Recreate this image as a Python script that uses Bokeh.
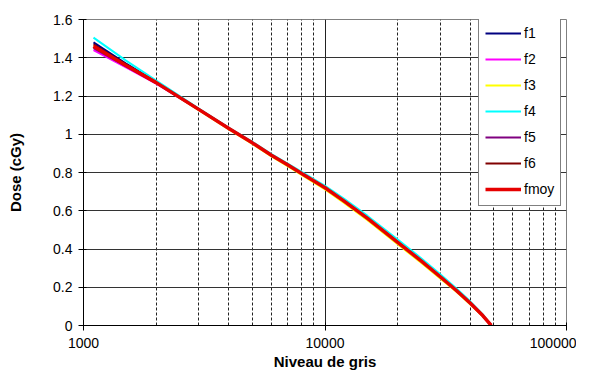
from bokeh.plotting import figure
from bokeh.models import FixedTicker, NumeralTickFormatter
from bokeh.embed import file_html
from bokeh.resources import INLINE

# Data
niveau = [1100, 1500, 2000, 3000, 4000, 5000, 6000, 7000, 8000, 10000, 12000,
          15000, 20000, 25000, 30000, 35000, 40000, 45000, 48800]
f1 = [1.48, 1.37, 1.275, 1.132, 1.032, 0.957, 0.892, 0.842, 0.797, 0.722, 0.652,
      0.562, 0.437, 0.34, 0.256, 0.184, 0.117, 0.053, 0.0]
f2 = [1.44, 1.35, 1.265, 1.128, 1.028, 0.953, 0.888, 0.838, 0.793, 0.718, 0.647,
      0.557, 0.432, 0.335, 0.252, 0.181, 0.114, 0.051, 0.0]
f3 = [1.46, 1.36, 1.268, 1.126, 1.025, 0.95, 0.884, 0.833, 0.788, 0.712, 0.641,
      0.55, 0.425, 0.328, 0.246, 0.176, 0.11, 0.048, 0.0]
f4 = [1.505, 1.385, 1.28, 1.134, 1.034, 0.96, 0.896, 0.847, 0.803, 0.73, 0.662,
      0.573, 0.449, 0.352, 0.268, 0.194, 0.125, 0.058, 0.0]
f5 = [1.45, 1.355, 1.267, 1.129, 1.029, 0.954, 0.889, 0.839, 0.794, 0.719, 0.649,
      0.559, 0.434, 0.337, 0.254, 0.182, 0.115, 0.051, 0.0]
f6 = [1.47, 1.365, 1.272, 1.131, 1.031, 0.956, 0.891, 0.841, 0.796, 0.721, 0.651,
      0.561, 0.436, 0.339, 0.256, 0.183, 0.116, 0.052, 0.0]
fmoy = [1.46, 1.36, 1.27, 1.13, 1.03, 0.955, 0.89, 0.84, 0.795, 0.72, 0.65,
        0.56, 0.435, 0.338, 0.255, 0.183, 0.116, 0.052, 0.0]

series_names = ["f1", "f2", "f3", "f4", "f5", "f6", "fmoy"]
series_values = [f1, f2, f3, f4, f5, f6, fmoy]
series_colors = ["#000080", "#FF00FF", "#FFFF00", "#00FFFF", "#800080", "#800000", "#E60000"]
series_widths = [2, 2, 2, 2, 2, 2, 3.5]

x_major = [1000, 10000, 100000]
x_minor = [2000, 3000, 4000, 5000, 6000, 7000, 8000, 9000,
           20000, 30000, 40000, 50000, 60000, 70000, 80000, 90000]
y_ticks = [0, 0.2, 0.4, 0.6, 0.8, 1.0, 1.2, 1.4, 1.6]

FONT = "Liberation Sans"

p = figure(width=576, height=372, x_axis_type="log",
           x_range=(1000, 100000), y_range=(0, 1.6),
           output_backend="svg", toolbar_location=None,
           min_border_left=83, min_border_right=10,
           min_border_top=19, min_border_bottom=46)

p.outline_line_color = "#808080"
p.outline_line_width = 1

for name, vals, col, w in zip(series_names, series_values, series_colors, series_widths):
    p.line(niveau, vals, line_color=col, line_width=w, legend_label=name)

# axes
p.xaxis.ticker = FixedTicker(ticks=x_major, minor_ticks=x_minor)
p.xaxis.formatter = NumeralTickFormatter(format="0")
p.yaxis.ticker = FixedTicker(ticks=y_ticks)
p.yaxis.formatter = NumeralTickFormatter(format="0.[0]")

for ax in (p.xaxis[0], p.yaxis[0]):
    ax.axis_line_color = "black"
    ax.major_tick_line_color = "black"
    ax.major_tick_in = 3
    ax.major_tick_out = 5
    ax.minor_tick_line_color = None
    ax.major_label_text_font = FONT
    ax.major_label_text_font_size = "14px"
    ax.major_label_text_color = "black"
    ax.axis_label_text_font = FONT
    ax.axis_label_text_font_size = "15px"
    ax.axis_label_text_font_style = "bold"
    ax.axis_label_text_color = "black"

p.xaxis.axis_label = "Niveau de gris"
p.xaxis.major_label_standoff = 7
p.xaxis.axis_label_standoff = 2
p.yaxis.axis_label = "Dose (cGy)"
p.yaxis.major_label_standoff = 6
p.yaxis.axis_label_standoff = 26

# grids
p.ygrid.grid_line_color = "#333333"
p.ygrid.grid_line_width = 1
p.xgrid.grid_line_color = "#222222"
p.xgrid.grid_line_width = 1
p.xgrid.minor_grid_line_color = "#222222"
p.xgrid.minor_grid_line_dash = "3 2"
p.xgrid.minor_grid_line_width = 1

# legend
lg = p.legend[0]
lg.location = (395, 119)
lg.border_line_color = "black"
lg.border_line_width = 1
lg.background_fill_color = "white"
lg.background_fill_alpha = 1
lg.label_text_font = FONT
lg.label_text_font_size = "14px"
lg.label_text_color = "black"
lg.glyph_width = 36
lg.glyph_height = 20
lg.label_height = 20
lg.label_standoff = 3
lg.spacing = 6
lg.padding = 6
lg.margin = 0

open("out.html", "w").write(file_html(p, INLINE))
